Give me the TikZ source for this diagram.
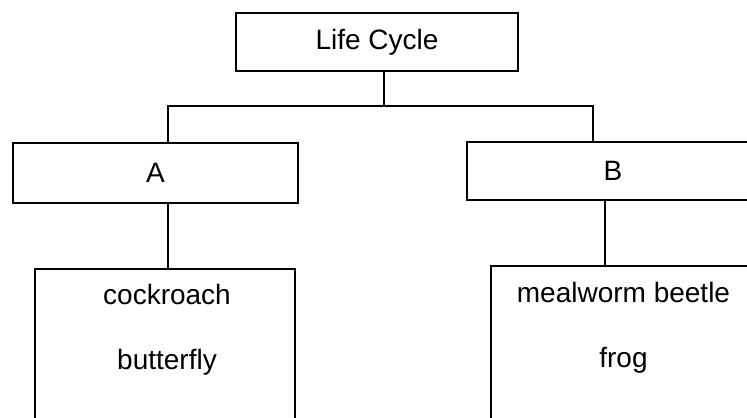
\documentclass[tikz,border=0pt]{standalone}
\usepackage{fontspec}
\setmainfont{Liberation Sans}
\usepackage{tikz}
\usetikzlibrary{positioning, calc}

\tikzset{
	boxnode/.style={draw, line width=0.9pt, inner sep=0pt, font=\fontsize{14}{17}\selectfont},
	leafbox/.style={draw, line width=0.9pt},
	itemtext/.style={inner sep=0pt, text height=10pt, text depth=3pt, font=\fontsize{14}{17}\selectfont},
	link/.style={line width=0.9pt}
}

\begin{document}
\begin{tikzpicture}[x=0.5pt, y=-0.5pt]
\clip (0,0) rectangle (747,417);
\useasboundingbox (0,0) rectangle (747,417);

% Boxes
\node[boxnode, minimum width=141pt, minimum height=29pt] (life) at (377,42) {Life Cycle};
\node[boxnode, minimum width=142.5pt, minimum height=30pt] (A) at (155.5,173) {A};
\node[boxnode, minimum width=146pt, minimum height=29pt] (B) at (613,171) {B};
\node[leafbox, minimum width=130pt, minimum height=95.5pt] (cbox) at (165,364.5) {};
\node[leafbox, minimum width=132pt, minimum height=97pt] (mbox) at (623,363) {};

% Animals
\node[itemtext] (cockroach) at (167,297) {cockroach};
\node[itemtext, below=19.5pt of cockroach] (butterfly) {butterfly};
\node[itemtext] (mealworm) at (623.5,295) {mealworm beetle};
\node[itemtext, below=19.5pt of mealworm] (frog) {frog};

% Connectors
\coordinate (fork) at (384,106);
\coordinate (a-x) at (168,0);
\coordinate (b-x) at (593,0);
\coordinate (b-down) at (605,0);

\draw[link] (life.south -| fork) -- (fork);
\draw[link] (A.north -| a-x) |- (fork) -| (B.north -| b-x);
\draw[link] (A.south -| a-x) -- (cbox.north -| a-x);
\draw[link] (B.south -| b-down) -- (mbox.north -| b-down);

\end{tikzpicture}
\end{document}
